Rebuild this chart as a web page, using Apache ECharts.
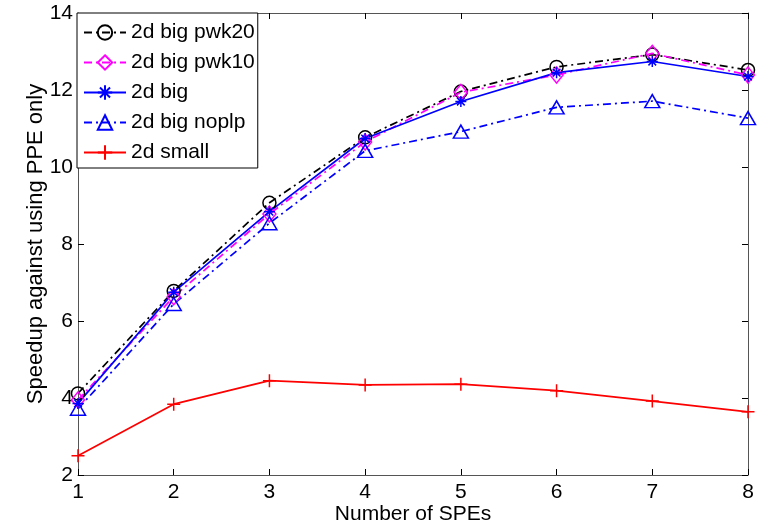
<!DOCTYPE html>
<html>
<head>
<meta charset="utf-8">
<script src="https://cdn.jsdelivr.net/npm/echarts@6/dist/echarts.min.js"></script>
<style>
  html, body { margin: 0; padding: 0; background: #fff; }
  #chart { width: 766px; height: 526px; }
</style>
</head>
<body>
<div id="chart"></div>
<script>
// Number of SPEs on the x axis
const speCounts = [1, 2, 3, 4, 5, 6, 7, 8];

// Speedup against using the PPE only, one array per configuration
const bigPwk20 = [4.12, 6.78, 9.07, 10.77, 11.96, 12.60, 12.92, 12.52];
const bigPwk10 = [3.95, 6.63, 8.78, 10.65, 11.94, 12.39, 12.95, 12.39];
const big      = [3.86, 6.75, 8.84, 10.74, 11.70, 12.45, 12.74, 12.35];
const bigNoplp = [3.72, 6.44, 8.54, 10.42, 10.92, 11.55, 11.71, 11.27];
const small    = [2.50, 3.84, 4.45, 4.34, 4.36, 4.19, 3.92, 3.64];

const seriesNames = ['2d big pwk20', '2d big pwk10', '2d big', '2d big noplp', '2d small'];

const xTicks = [1, 2, 3, 4, 5, 6, 7, 8];
const yTicks = [2, 4, 6, 8, 10, 12, 14];

const FONT = '"Liberation Sans", Arial, Helvetica, sans-serif';
const dashDot = [8, 4, 2, 4];

const asterisk = 'path://M0,5L10,5M5,0L5,10M1.5,1.5L8.5,8.5M1.5,8.5L8.5,1.5';
const plus = 'path://M0,5L10,5M5,0L5,10';

function pairs(ys) {
  return speCounts.map((x, i) => [x, ys[i]]);
}

function lineSeries(name, ys, color, lineType, symbol, symbolSize) {
  return {
    name: name,
    type: 'line',
    data: pairs(ys),
    symbol: symbol,
    symbolSize: symbolSize,
    symbolKeepAspect: true,
    showAllSymbol: true,
    lineStyle: { color: color, width: 1.7, type: lineType },
    itemStyle: { color: 'rgba(0,0,0,0)', borderColor: color, borderWidth: 1.5 },
    emphasis: { disabled: true },
    animation: false
  };
}

const chart = echarts.init(document.getElementById('chart'), null, { renderer: 'canvas' });

const axisText = { color: '#000', fontFamily: FONT, fontSize: 21 };

chart.setOption({
  backgroundColor: '#fff',
  animation: false,
  grid: { left: 78, right: 18, top: 13, bottom: 51, outerBoundsMode: 'none', containLabel: false },
  legend: {
    orient: 'vertical',
    left: 77,
    top: 13,
    data: seriesNames,
    backgroundColor: '#fff',
    borderColor: '#000',
    borderWidth: 1,
    borderRadius: 0,
    padding: [9, 3, 5, 6],
    itemWidth: 42,
    itemHeight: 18,
    itemGap: 9,
    selectedMode: false,
    textStyle: { color: '#000', fontFamily: FONT, fontSize: 21 }
  },
  xAxis: [
    {
      type: 'value',
      min: 1, max: 8, interval: 1,
      name: 'Number of SPEs',
      nameLocation: 'middle',
      nameGap: 29,
      nameMoveOverlap: false,
      nameTextStyle: axisText,
      axisLine: { show: true, onZero: false, lineStyle: { color: '#555', width: 1 } },
      axisTick: { show: true, inside: true, length: 6, lineStyle: { color: '#000' } },
      axisLabel: Object.assign({ margin: 7, formatter: v => xTicks.includes(v) ? String(v) : '' }, axisText),
      splitLine: { show: false }
    },
    {
      type: 'value',
      position: 'top',
      min: 1, max: 8, interval: 1,
      axisLine: { show: true, onZero: false, lineStyle: { color: '#555', width: 1 } },
      axisTick: { show: true, inside: true, length: 6, lineStyle: { color: '#000' } },
      axisLabel: { show: false },
      splitLine: { show: false }
    }
  ],
  yAxis: [
    {
      type: 'value',
      min: 2, max: 14, interval: 2,
      name: 'Speedup against using PPE only',
      nameLocation: 'middle',
      nameGap: 31,
      nameMoveOverlap: false,
      nameTextStyle: Object.assign({}, axisText, { fontSize: 22 }),
      axisLine: { show: true, onZero: false, lineStyle: { color: '#555', width: 1 } },
      axisTick: { show: true, inside: true, length: 6, lineStyle: { color: '#000' } },
      axisLabel: Object.assign({ margin: 5, formatter: v => yTicks.includes(v) ? String(v) : '' }, axisText),
      splitLine: { show: false }
    },
    {
      type: 'value',
      position: 'right',
      min: 2, max: 14, interval: 2,
      axisLine: { show: true, onZero: false, lineStyle: { color: '#555', width: 1 } },
      axisTick: { show: true, inside: true, length: 6, lineStyle: { color: '#000' } },
      axisLabel: { show: false },
      splitLine: { show: false }
    }
  ],
  series: [
    lineSeries(seriesNames[0], bigPwk20, '#000000', dashDot, 'circle', 13),
    lineSeries(seriesNames[1], bigPwk10, '#ff00ff', dashDot, 'diamond', [13, 16]),
    lineSeries(seriesNames[2], big, '#0000ff', 'solid', asterisk, 11),
    lineSeries(seriesNames[3], bigNoplp, '#0000ff', dashDot, 'triangle', [15, 13]),
    lineSeries(seriesNames[4], small, '#ff0000', 'solid', plus, 13)
  ]
});
</script>
</body>
</html>
